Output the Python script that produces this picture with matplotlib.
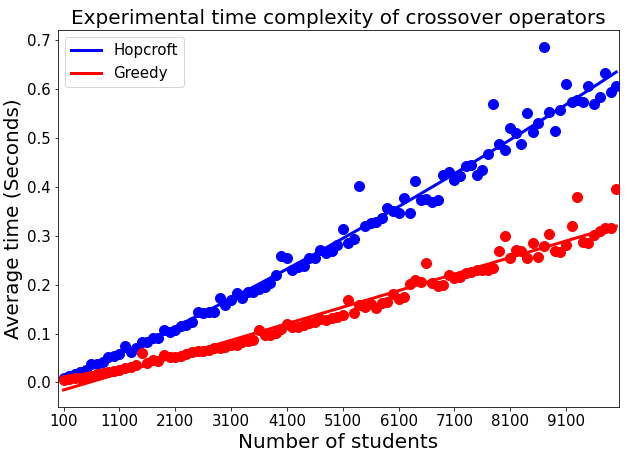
import matplotlib
matplotlib.use("Agg")
import matplotlib.pyplot as plt
import numpy as np

# number of students: 100, 200, ..., 10000
students = np.arange(100, 10001, 100)

hopcroft_times = [
    0.008, 0.014, 0.018, 0.021, 0.026, 0.038, 0.038, 0.042, 0.051, 0.055,
    0.059, 0.074, 0.062, 0.070, 0.082, 0.083, 0.091, 0.091, 0.107, 0.103,
    0.107, 0.116, 0.118, 0.124, 0.144, 0.141, 0.144, 0.144, 0.172, 0.158,
    0.168, 0.182, 0.172, 0.185, 0.185, 0.192, 0.196, 0.203, 0.220, 0.259,
    0.254, 0.230, 0.236, 0.238, 0.254, 0.254, 0.270, 0.264, 0.268, 0.281,
    0.313, 0.285, 0.293, 0.401, 0.320, 0.327, 0.329, 0.336, 0.357, 0.350,
    0.346, 0.377, 0.346, 0.411, 0.374, 0.375, 0.370, 0.374, 0.425, 0.430,
    0.415, 0.422, 0.442, 0.444, 0.425, 0.435, 0.468, 0.569, 0.488, 0.476,
    0.521, 0.511, 0.487, 0.551, 0.513, 0.531, 0.686, 0.554, 0.514, 0.558,
    0.610, 0.574, 0.578, 0.574, 0.606, 0.569, 0.584, 0.632, 0.594, 0.606,
]

greedy_times = [
    0.004, 0.006, 0.008, 0.010, 0.012, 0.014, 0.017, 0.019, 0.021, 0.024,
    0.026, 0.029, 0.031, 0.035, 0.061, 0.040, 0.045, 0.043, 0.057, 0.052,
    0.052, 0.055, 0.059, 0.062, 0.064, 0.064, 0.066, 0.070, 0.071, 0.072,
    0.076, 0.077, 0.082, 0.084, 0.086, 0.107, 0.097, 0.097, 0.102, 0.110,
    0.119, 0.114, 0.114, 0.117, 0.122, 0.124, 0.129, 0.127, 0.131, 0.134,
    0.138, 0.168, 0.141, 0.158, 0.155, 0.160, 0.153, 0.163, 0.165, 0.181,
    0.170, 0.175, 0.201, 0.209, 0.205, 0.244, 0.203, 0.197, 0.199, 0.220,
    0.213, 0.216, 0.223, 0.226, 0.230, 0.230, 0.230, 0.235, 0.269, 0.300,
    0.255, 0.271, 0.268, 0.255, 0.286, 0.257, 0.278, 0.303, 0.269, 0.266,
    0.281, 0.319, 0.379, 0.287, 0.285, 0.302, 0.309, 0.316, 0.316, 0.396,
]

x_ticks = np.arange(100, 10000, 1000)

# fitted trends: quadratic for Hopcroft, linear for Greedy
hop_fit = np.polyval(np.polyfit(students, hopcroft_times, 2), students)
greedy_fit = np.polyval(np.polyfit(students, greedy_times, 1), students)

fig = plt.figure(figsize=(629 / 72, 460 / 72), dpi=72)
ax = fig.add_axes([0.0922, 0.115, 0.892, 0.82])

ax.scatter(students, hopcroft_times, color='blue', s=100, zorder=3)
ax.scatter(students, greedy_times, color='red', s=100, zorder=3)
ax.plot(students, hop_fit, color='blue', linewidth=3, label='Hopcroft')
ax.plot(students, greedy_fit, color='red', linewidth=3, label='Greedy')

ax.set_xlim(0, 10050)
ax.set_xticks(x_ticks)
ax.set_yticks(np.arange(0, 0.71, 0.1))
ax.tick_params(labelsize=15)

ax.set_title('Experimental time complexity of crossover operators', fontsize=20)
ax.set_xlabel('Number of students', fontsize=20)
ax.set_ylabel('Average time (Seconds)', fontsize=20)
ax.legend(loc='upper left', fontsize=15)

plt.savefig('out.png', dpi=72)
